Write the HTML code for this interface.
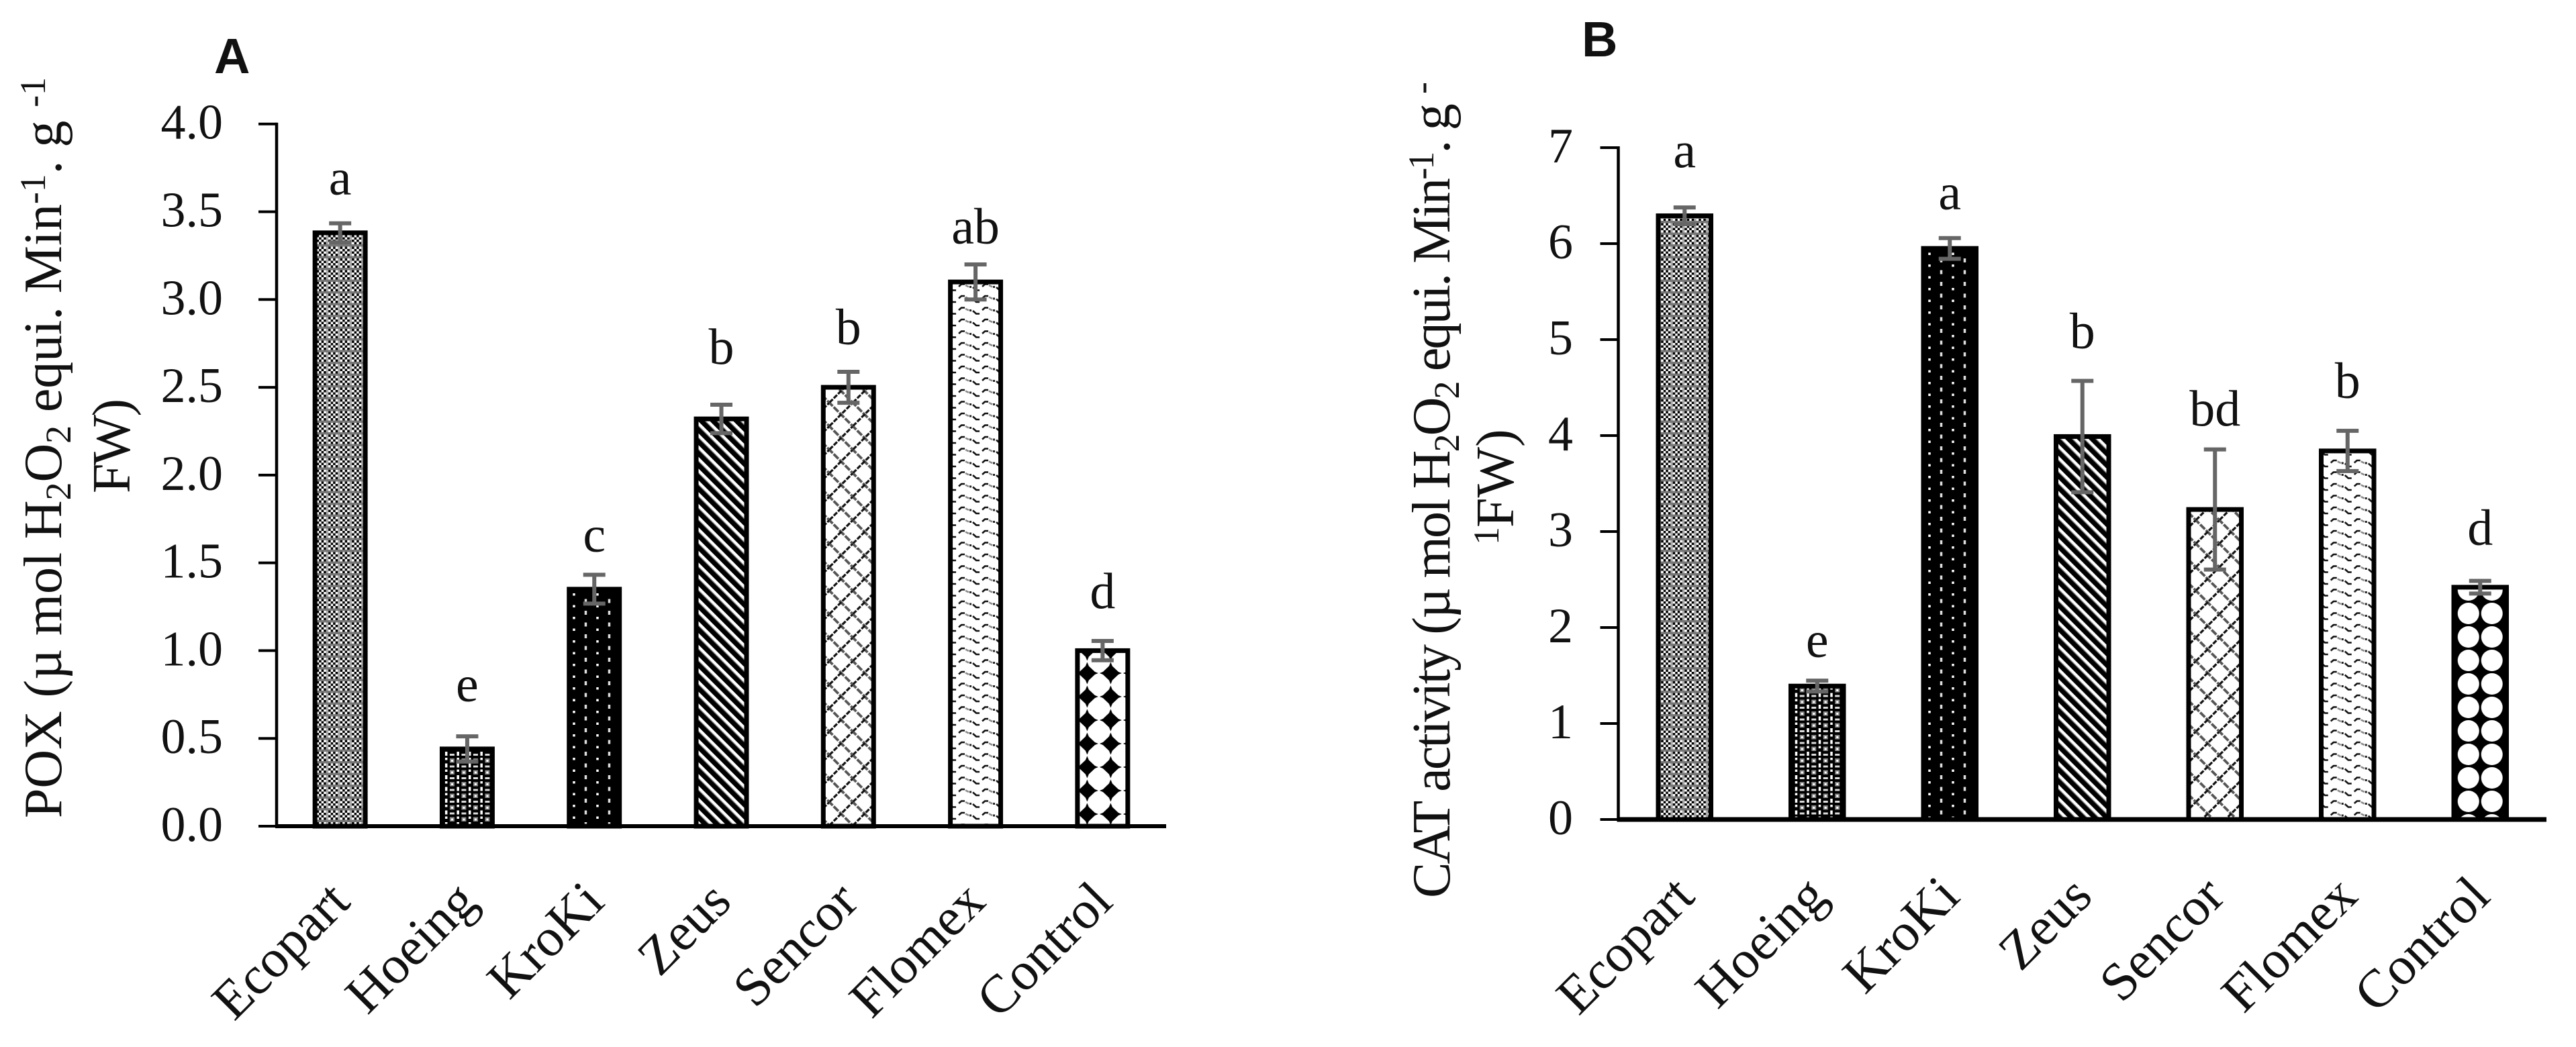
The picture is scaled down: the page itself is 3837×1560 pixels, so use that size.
<!DOCTYPE html>
<html lang="en">
<head>
<meta charset="utf-8">
<title>POX and CAT activity by treatment</title>
<style>
html,body{margin:0;padding:0;background:#fff;width:3837px;height:1560px;overflow:hidden}
svg{display:block}
text{font-family:"Liberation Serif",serif;fill:#111}
</style>
</head>
<body>
<svg id="figure" xmlns="http://www.w3.org/2000/svg" width="3837" height="1560" viewBox="0 0 3837 1560">
<defs>
<pattern id="p-ecopart" patternUnits="userSpaceOnUse" width="17.5" height="17.5">
<rect width="17.5" height="17.5" fill="#fff"/>
<path d="M0 0h3.5v3.5H0zM7 0h3.5v3.5H7zM3.5 3.5H7V7H3.5zM10.5 3.5H14V7h-3.5zM0 7h3.5v3.5H0zM7 7h3.5v3.5H7zM3.5 10.5H7V14H3.5zM10.5 10.5H14V14h-3.5z" fill="#000"/>
<rect x="14" width="3.5" height="17.5" fill="#aaa"/>
<rect y="14" width="17.5" height="3.5" fill="#777"/>
</pattern>
<pattern id="p-hoeing" patternUnits="userSpaceOnUse" width="17.5" height="17.5">
<rect width="17.5" height="17.5" fill="#000"/>
<rect x="2" y="0" width="3.5" height="6" fill="#fff"/>
<rect x="2" y="9" width="3.5" height="3.5" fill="#fff"/>
<rect x="9" y="3" width="7" height="3" fill="#ddd"/>
<rect x="9" y="10" width="7" height="6.5" fill="#888"/>
<rect x="11" y="12" width="3" height="3" fill="#fff"/>
</pattern>
<pattern id="p-kroki" patternUnits="userSpaceOnUse" width="35" height="17.5">
<rect width="35" height="17.5" fill="#000"/>
<rect x="3" y="9" width="3.5" height="3.5" fill="#fff"/>
<rect x="20.5" y="0" width="3.5" height="6" fill="#ddd"/>
</pattern>
<pattern id="p-zeus" patternUnits="userSpaceOnUse" width="17.5" height="17.5">
<rect width="17.5" height="17.5" fill="#000"/>
<path d="M-6 -3L20 23M11.5 -3L23 8.5M-6 14.5L3 23.5" stroke="#808080" stroke-width="2.5"/>
<path d="M-5 -5L22.5 22.5M12.5 -5L22.5 5M-5 12.5L5 22.5" stroke="#fff" stroke-width="4"/>
</pattern>
<pattern id="p-sencor" patternUnits="userSpaceOnUse" width="35" height="35" patternTransform="translate(6.5 5)">
<rect width="35" height="35" fill="#fff"/>
<path d="M-2 -2L37 37" stroke="#555" stroke-width="3.8" stroke-dasharray="10 2"/>
<path d="M37 -2L-2 37" stroke="#111" stroke-width="3.2" stroke-dasharray="7 2"/>
</pattern>
<pattern id="p-flomex" patternUnits="userSpaceOnUse" width="35" height="17.5" patternTransform="translate(-5 0)">
<rect width="35" height="17.5" fill="#fff"/>
<path d="M1 8L6 12.5H11" fill="none" stroke="#111" stroke-width="2.6"/>
<path d="M15 7L19 3.5H24" fill="none" stroke="#111" stroke-width="2.6"/>
<path d="M25 5L30 7.5" fill="none" stroke="#888" stroke-width="2.6"/>
<rect x="31" y="6" width="3" height="3" fill="#222"/>
</pattern>
<pattern id="p-control-a" patternUnits="userSpaceOnUse" width="35" height="35" patternTransform="translate(-40.5 5.5)">
<rect width="35" height="35" fill="#fff"/>
<polygon points="17.5,1 20,7 29,15.5 34,17.5 29,19.5 20,28 17.5,34 15,28 6,19.5 1,17.5 6,15.5 15,7" fill="#000"/>
</pattern>
<pattern id="p-control-b" patternUnits="userSpaceOnUse" width="35" height="35" patternTransform="translate(0 21.5)">
<rect width="35" height="35" fill="#000"/>
<circle cx="17.5" cy="17.5" r="16" fill="#fff"/>
</pattern>
</defs>

<text x="319" y="109" font-size="74" font-weight="700" style="font-family:'Liberation Sans',sans-serif">A</text>
<text x="2356" y="84" font-size="74" font-weight="700" style="font-family:'Liberation Sans',sans-serif">B</text>

<text transform="translate(91 1219) rotate(-90)" font-size="80" textLength="1104">POX (µ mol H<tspan dy="14" font-size="54">2</tspan><tspan dy="-14">O</tspan><tspan dy="14" font-size="54">2</tspan><tspan dy="-14"> equi. Min</tspan><tspan dy="-24" font-size="54">-1</tspan><tspan dy="24">. g </tspan><tspan dy="-24" font-size="54">-1</tspan></text>
<text transform="translate(193 735) rotate(-90)" font-size="80" textLength="141">FW)</text>

<text transform="translate(2159 1338) rotate(-90)" font-size="80" textLength="1216">CAT activity (µ mol H<tspan dy="14" font-size="54">2</tspan><tspan dy="-14">O</tspan><tspan dy="14" font-size="54">2</tspan><tspan dy="-14"> equi. Min</tspan><tspan dy="-24" font-size="54">-1</tspan><tspan dy="24">. g </tspan><tspan dy="-24" font-size="54">-</tspan></text>
<text transform="translate(2254 812) rotate(-90)" font-size="80"><tspan dy="-22" font-size="54">1</tspan><tspan dy="22" dx="-1">FW)</tspan></text>

<g id="panel-a"></g>
<g id="panel-b"></g>
</svg>

<script>
const categories = ['Ecopart', 'Hoeing', 'KroKi', 'Zeus', 'Sencor', 'Flomex', 'Control'];

const poxTickLabels = ['0.0', '0.5', '1.0', '1.5', '2.0', '2.5', '3.0', '3.5', '4.0'];
const poxValues = [3.38, 0.44, 1.35, 2.32, 2.50, 3.10, 1.00];
const poxErrors = [0.054, 0.072, 0.082, 0.081, 0.088, 0.10, 0.055];
const poxLetters = ['a', 'e', 'c', 'b', 'b', 'ab', 'd'];
const poxLetterLift = [0.218, 0.271, 0.214, 0.313, 0.245, 0.218, 0.241];

const catTickLabels = ['0', '1', '2', '3', '4', '5', '6', '7'];
const catValues = [6.29, 1.39, 5.95, 3.99, 3.23, 3.84, 2.42];
const catErrors = [0.087, 0.057, 0.108, 0.58, 0.626, 0.21, 0.066];
const catLetters = ['a', 'e', 'a', 'b', 'bd', 'b', 'd'];
const catLetterLift = [0.505, 0.304, 0.405, 0.92, 0.87, 0.55, 0.44];

const barFills = ['p-ecopart', 'p-hoeing', 'p-kroki', 'p-zeus', 'p-sencor', 'p-flomex'];
const SVGNS = 'http://www.w3.org/2000/svg';

function mk(parent, tag, attrs, text) {
  const el = document.createElementNS(SVGNS, tag);
  for (const k in attrs) el.setAttribute(k, attrs[k]);
  if (text !== undefined) el.textContent = text;
  parent.appendChild(el);
  return el;
}

function drawPanel(cfg) {
  const root = document.getElementById(cfg.id);
  const ticks = cfg.ticks.map(Number);
  const yMax = ticks[ticks.length - 1];
  const yScale = v => cfg.y0 - (v / yMax) * (cfg.y0 - cfg.yTop);
  const band = (cfg.xEnd - cfg.xAxis) / categories.length;
  const xScale = i => cfg.xAxis + band * (i + 0.5);
  const outer = band * 0.433;
  const sw = 7;

  categories.forEach((cat, i) => {
    const yv = yScale(cfg.values[i]);
    const fill = i < barFills.length ? barFills[i] : cfg.controlFill;
    const bar = mk(root, 'rect', {
      transform: 'translate(' + xScale(i) + ' 0)',
      x: -(outer - sw) / 2, y: yv, width: outer - sw, height: cfg.y0 - yv,
      fill: 'url(#' + fill + ')', stroke: '#000', 'stroke-width': sw
    });
    
    
  });

  const yAxis = mk(root, 'line', {x1: cfg.xAxis, x2: cfg.xAxis, y1: yScale(yMax) - 2, y2: cfg.y0, stroke: '#000', 'stroke-width': 4.5});
  
  

  const xAxis = mk(root, 'line', {x1: cfg.xAxis - 2, x2: cfg.xEnd, y1: cfg.y0, y2: cfg.y0, stroke: '#000', 'stroke-width': cfg.xAxisWidth});
  
  

  cfg.ticks.forEach((label, i) => {
    const y = yScale(ticks[i]);
    const tick = mk(root, 'line', {x1: cfg.xAxis - 27, x2: cfg.xAxis, y1: y, y2: y, stroke: '#000', 'stroke-width': 4});
    
    
    const txt = mk(root, 'text', {x: cfg.tickRight, y: y + 22, 'text-anchor': 'end', 'font-size': 74}, label);
    
    
  });

  categories.forEach((cat, i) => {
    const cx = xScale(i);
    const top = yScale(cfg.values[i] + cfg.errors[i]);
    const bot = yScale(cfg.values[i] - cfg.errors[i]);
    const err = mk(root, 'path', {
      d: 'M' + (cx - 16.5) + ' ' + top + 'H' + (cx + 16.5) + 'M' + cx + ' ' + top + 'V' + bot + 'M' + (cx - 16.5) + ' ' + bot + 'H' + (cx + 16.5),
      fill: 'none', stroke: '#666', 'stroke-width': 6
    });
    
    

    const letter = mk(root, 'text', {
      x: cx, y: yScale(cfg.values[i] + cfg.lifts[i]),
      'text-anchor': 'middle', 'font-size': 76
    }, cfg.letters[i]);
    
    

    const ax = cx + 18;
    const ay = cfg.y0 + cfg.catDrop;
    const catLabel = mk(root, 'text', {
      transform: 'translate(' + ax + ' ' + ay + ') rotate(-45)',
      'text-anchor': 'end', 'font-size': 80
    }, cat);
    
    
  });
}

drawPanel({
  id: 'panel-a', prefix: 'pox',
  ticks: poxTickLabels, values: poxValues, errors: poxErrors, letters: poxLetters, lifts: poxLetterLift,
  xAxis: 412, xEnd: 1737, y0: 1231, yTop: 184.7, tickRight: 332, xAxisWidth: 6, catDrop: 116,
  controlFill: 'p-control-a'
});
drawPanel({
  id: 'panel-b', prefix: 'cat',
  ticks: catTickLabels, values: catValues, errors: catErrors, letters: catLetters, lifts: catLetterLift,
  xAxis: 2410.5, xEnd: 3793, y0: 1221, yTop: 220, tickRight: 2343, xAxisWidth: 7, catDrop: 118,
  controlFill: 'p-control-b'
});
</script>
</body>
</html>
